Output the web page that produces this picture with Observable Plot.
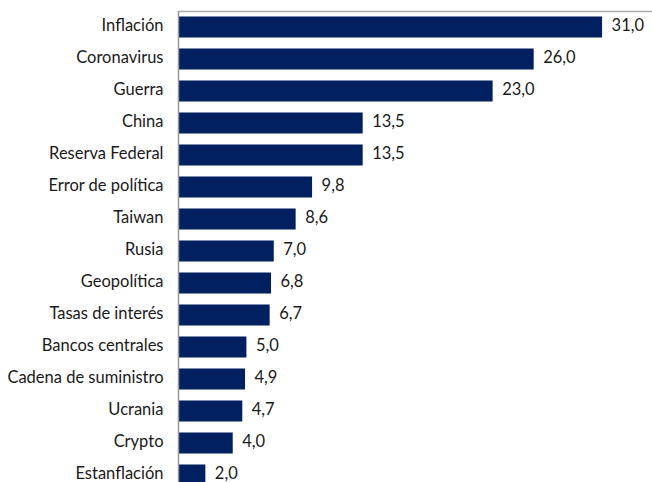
<!DOCTYPE html>
<html>
<head>
<meta charset="utf-8">
<script src="https://cdn.jsdelivr.net/npm/d3@7"></script>
<script src="https://cdn.jsdelivr.net/npm/@observablehq/plot@0.6"></script>
<style>
  html, body { margin: 0; padding: 0; background: #fff; overflow: hidden; }
  #chart svg { display: block; }
</style>
</head>
<body>
<div id="chart"></div>
<script>
const categories = ["Inflación", "Coronavirus", "Guerra", "China", "Reserva Federal", "Error de política", "Taiwan", "Rusia", "Geopolítica", "Tasas de interés", "Bancos centrales", "Cadena de suministro", "Ucrania", "Crypto", "Estanflación"];
const values = [31.0, 26.0, 23.0, 13.5, 13.5, 9.8, 8.6, 7.0, 6.8, 6.7, 5.0, 4.9, 4.7, 4.0, 2.0];

const data = categories.map((c, i) => ({category: c, value: values[i]}));
const fmt = v => d3.format(".1f")(v).replace(".", ",");

const chart = Plot.plot({
  width: 652,
  height: 491,
  marginLeft: 178,
  marginRight: 0,
  marginTop: 11,
  marginBottom: 0,
  style: {fontFamily: "Lato, sans-serif", fontSize: "16.5px", color: "#1a1a1a", background: "#fff"},
  x: {domain: [0, 34.65], axis: null},
  y: {domain: categories, padding: 0, label: null},
  marks: [
    Plot.barX(data, {x: "value", y: "category", fill: "#002060", insetTop: 5.5, insetBottom: 5.5}),
    Plot.text(data, {x: "value", y: "category", text: d => fmt(d.value), textAnchor: "start", dx: 9, dy: -2, fill: "#1a1a1a", fontSize: 16.5}),
    Plot.axisY({tickSize: 0, tickPadding: 15, dy: -2, fontSize: 16.5, label: null}),
    Plot.ruleX([0], {stroke: "#999", strokeWidth: 1.5}),
    Plot.frame({anchor: "top", stroke: "#aaa", strokeWidth: 1.5})
  ]
});
document.getElementById("chart").appendChild(chart);
</script>
</body>
</html>
